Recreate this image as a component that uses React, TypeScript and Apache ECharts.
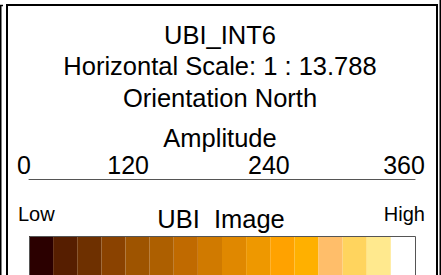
import React, { useEffect, useRef } from "react";
import * as echarts from "echarts";

const titleLines = ["UBI_INT6", "Horizontal Scale: 1 : 13.788", "Orientation North"];
const axisTitle = "Amplitude";
const amplitudeTicks = [0, 120, 240, 360];
const barTitle = "UBI  Image";
const lowLabel = "Low";
const highLabel = "High";
const swatchCategories = ["1", "2", "3", "4", "5", "6", "7", "8", "9", "10", "11", "12", "13", "14", "15", "16"];
const swatchValues = [1, 1, 1, 1, 1, 1, 1, 1, 1, 1, 1, 1, 1, 1, 1, 1];
const swatchColors = [
  "#2b0000", "#561e00", "#6e3000", "#8a4200", "#9e5400", "#ad5f00", "#c06a00", "#d07a00",
  "#e08800", "#ee9800", "#ffa200", "#ffb000", "#ffbe6a", "#ffd45e", "#ffe98e", "#ffffff",
];

const FONT = '"Liberation Sans", Arial, Helvetica, sans-serif';
const labelNudge: Record<number, number> = { 0: 10, 120: 59, 240: 35, 360: 22 };

export default function App() {
  const ref = useRef<HTMLDivElement>(null);
  useEffect(() => {
    document.body.style.margin = "0";
    if (!ref.current) return;
    const chart = echarts.init(ref.current, undefined, { renderer: "svg" });
    const rich: Record<string, any> = {};
    amplitudeTicks.forEach((t, i) => {
      rich["t" + i] = {
        fontSize: 25,
        fontFamily: FONT,
        color: "#000",
        padding: [0, labelNudge[t] || 0, 0, 0],
      };
    });
    const titleY = [35, 65.5, 98];
    chart.setOption({
      animation: false,
      backgroundColor: "#fff",
      grid: [
        { left: 29, right: 26, top: 178, height: 1, show: false },
        { left: 29, right: 26, top: 236, bottom: -30, show: false },
      ],
      xAxis: [
        {
          gridIndex: 0,
          type: "value",
          position: "top",
          min: 0,
          max: 360,
          interval: 120,
          axisLine: { show: true, lineStyle: { color: "#555", width: 1 } },
          axisTick: { show: false },
          splitLine: { show: false },
          axisLabel: {
            margin: 1,
            formatter: (v: number) => {
              const i = amplitudeTicks.indexOf(v);
              return i >= 0 ? `{t${i}|${v}}` : "";
            },
            rich,
          },
        },
        {
          gridIndex: 1,
          type: "category",
          data: swatchCategories,
          show: false,
        },
      ],
      yAxis: [
        { gridIndex: 0, type: "value", show: false, min: 0, max: 1 },
        { gridIndex: 1, type: "value", show: false, min: 0, max: 1 },
      ],
      series: [
        { type: "scatter", xAxisIndex: 0, yAxisIndex: 0, data: [] },
        {
          type: "bar",
          xAxisIndex: 1,
          yAxisIndex: 1,
          barCategoryGap: "0%",
          data: swatchValues.map((v, i) => ({ value: v, itemStyle: { color: swatchColors[i] } })),
          silent: true,
        },
      ],
      graphic: [
        ...titleLines.map((t, i) => ({
          type: "text",
          x: 220,
          y: titleY[i],
          style: { text: t, font: `25.5px ${FONT}`, fill: "#000", textAlign: "center", textVerticalAlign: "middle" },
        })),
        {
          type: "text",
          x: 220,
          y: 137.5,
          style: { text: axisTitle, font: `25.5px ${FONT}`, fill: "#000", textAlign: "center", textVerticalAlign: "middle" },
        },
        {
          type: "text",
          x: 221,
          y: 218.5,
          style: { text: barTitle, font: `25.5px ${FONT}`, fill: "#000", textAlign: "center", textVerticalAlign: "middle" },
        },
        {
          type: "text",
          x: 18,
          y: 214,
          style: { text: lowLabel, font: `20px ${FONT}`, fill: "#000", textAlign: "left", textVerticalAlign: "middle" },
        },
        {
          type: "text",
          x: 425,
          y: 214,
          style: { text: highLabel, font: `20px ${FONT}`, fill: "#000", textAlign: "right", textVerticalAlign: "middle" },
        },
        {
          type: "rect",
          z: 100,
          shape: { x: 29.5, y: 236.5, width: 386, height: 80 },
          style: { fill: "none", stroke: "#555", lineWidth: 1 },
        },
        {
          type: "rect",
          z: 100,
          shape: { x: 7, y: 5, width: 430, height: 300 },
          style: { fill: "none", stroke: "#000", lineWidth: 2 },
        },
        {
          type: "polyline",
          z: 100,
          shape: { points: [[3, 5.5], [0.75, 5.5], [0.75, 300]] },
          style: { fill: "none", stroke: "#000", lineWidth: 1.5 },
        },
        {
          type: "line",
          z: 100,
          shape: { x1: 440.25, y1: 0, x2: 440.25, y2: 300 },
          style: { stroke: "#000", lineWidth: 1.5 },
        },
      ],
    });
    return () => chart.dispose();
  }, []);
  return <div ref={ref} style={{ width: 441, height: 275 }} />;
}
